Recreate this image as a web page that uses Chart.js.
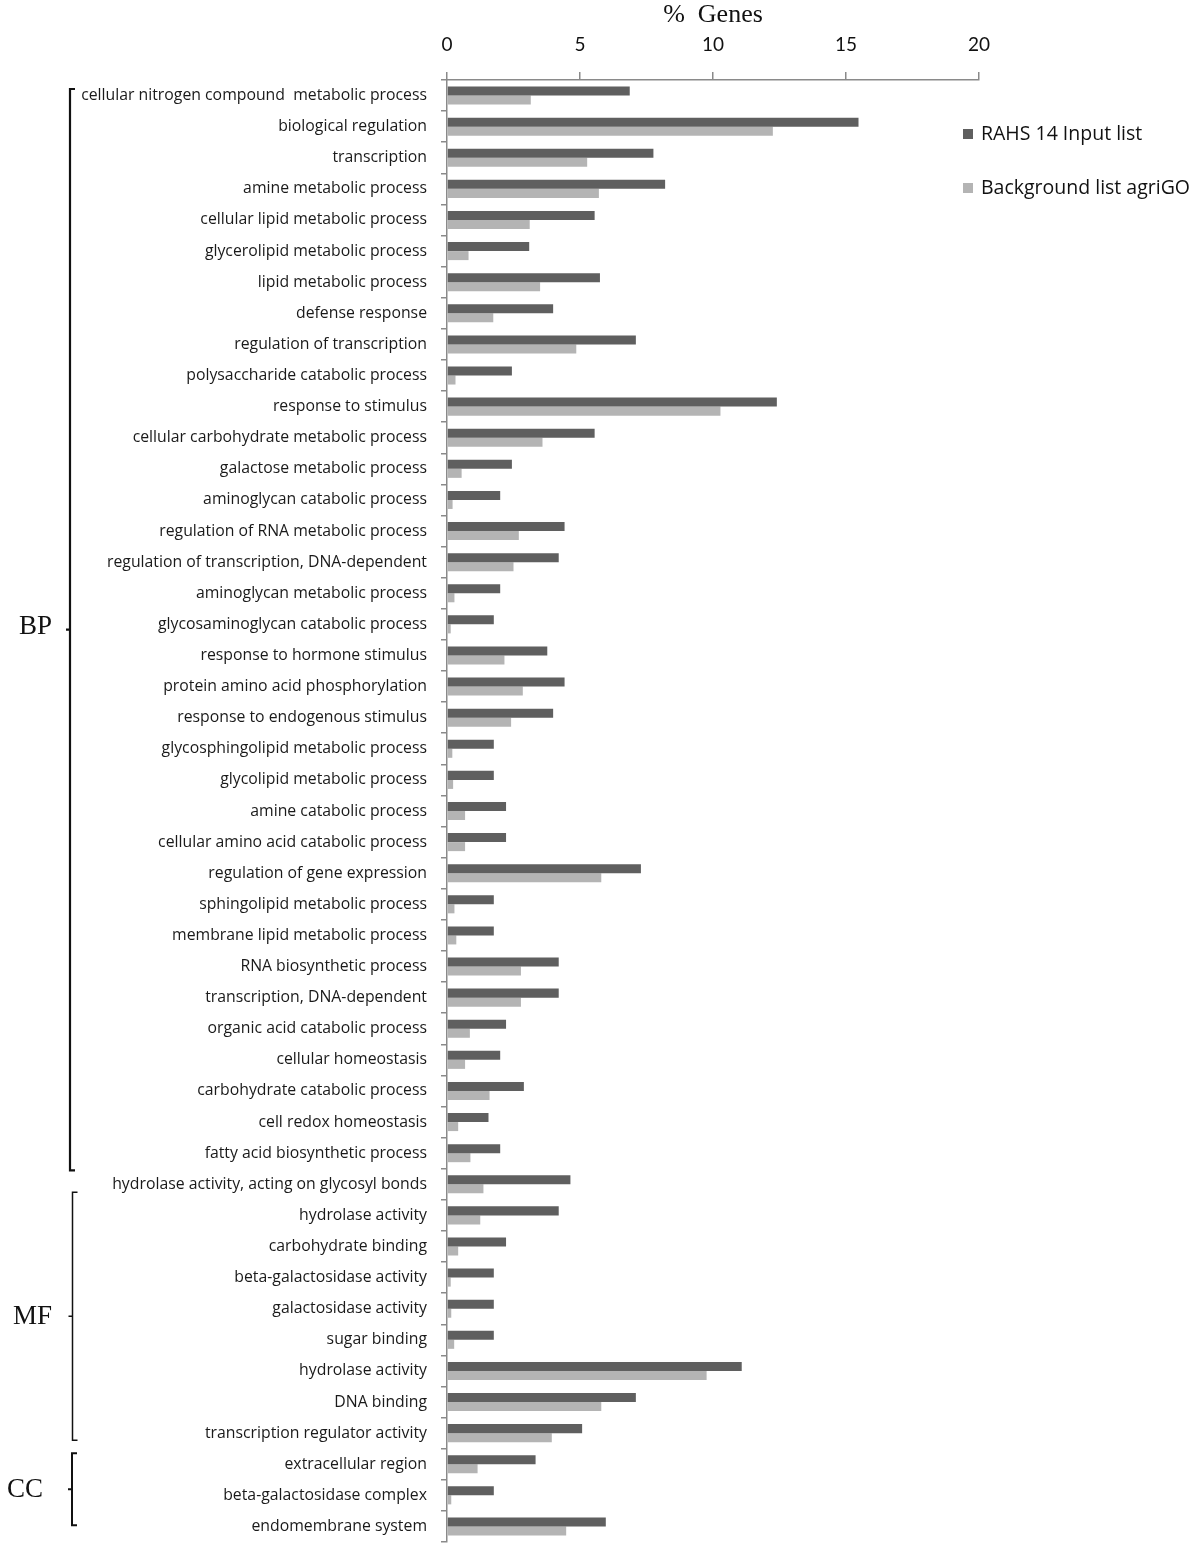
<html>

<head>
  <meta charset="utf-8">
  <style>
    html,
    body {
      margin: 0;
      padding: 0;
      background: #fff;
    }

    #wrap {
      width: 1200px;
      height: 1548px;
    }
  </style>
</head>

<body>
  <div id="wrap"><canvas id="myChart"></canvas></div>
  <script src="https://cdn.jsdelivr.net/npm/chart.js@4.4.1/dist/chart.umd.min.js"></script>
  <script type="text/javascript">
    // GO terms, top to bottom
    const terms = [
      'cellular nitrogen compound  metabolic process',
      'biological regulation',
      'transcription',
      'amine metabolic process',
      'cellular lipid metabolic process',
      'glycerolipid metabolic process',
      'lipid metabolic process',
      'defense response',
      'regulation of transcription',
      'polysaccharide catabolic process',
      'response to stimulus',
      'cellular carbohydrate metabolic process',
      'galactose metabolic process',
      'aminoglycan catabolic process',
      'regulation of RNA metabolic process',
      'regulation of transcription, DNA-dependent',
      'aminoglycan metabolic process',
      'glycosaminoglycan catabolic process',
      'response to hormone stimulus',
      'protein amino acid phosphorylation',
      'response to endogenous stimulus',
      'glycosphingolipid metabolic process',
      'glycolipid metabolic process',
      'amine catabolic process',
      'cellular amino acid catabolic process',
      'regulation of gene expression',
      'sphingolipid metabolic process',
      'membrane lipid metabolic process',
      'RNA biosynthetic process',
      'transcription, DNA-dependent',
      'organic acid catabolic process',
      'cellular homeostasis',
      'carbohydrate catabolic process',
      'cell redox homeostasis',
      'fatty acid biosynthetic process',
      'hydrolase activity, acting on glycosyl bonds',
      'hydrolase activity',
      'carbohydrate binding',
      'beta-galactosidase activity',
      'galactosidase activity',
      'sugar binding',
      'hydrolase activity',
      'DNA binding',
      'transcription regulator activity',
      'extracellular region',
      'beta-galactosidase complex',
      'endomembrane system'
    ];

    const inputList = [
      6.87, 15.47, 7.76, 8.2, 5.55, 3.09, 5.75, 3.99, 7.1, 2.44,
      12.4, 5.55, 2.44, 2.0, 4.42, 4.2, 2.0, 1.76, 3.77, 4.42,
      3.99, 1.76, 1.76, 2.22, 2.22, 7.29, 1.76, 1.76, 4.2, 4.2,
      2.22, 2.0, 2.89, 1.56, 2.0, 4.64, 4.2, 2.22, 1.76, 1.76,
      1.76, 11.08, 7.1, 5.08, 3.33, 1.76, 5.97
    ];

    const backgroundList = [
      3.15, 12.25, 5.27, 5.71, 3.11, 0.81, 3.5, 1.74, 4.86, 0.32,
      10.28, 3.59, 0.55, 0.21, 2.7, 2.5, 0.28, 0.14, 2.16, 2.85,
      2.41, 0.2, 0.23, 0.68, 0.68, 5.8, 0.28, 0.35, 2.78, 2.78,
      0.86, 0.68, 1.6, 0.42, 0.88, 1.37, 1.25, 0.42, 0.14, 0.16,
      0.27, 9.76, 5.8, 3.94, 1.15, 0.16, 4.48
    ];

    const xTicks = [0, 5, 10, 15, 20];

    // ontology groups, spans in row units from the top of the plot
    const groupNames = ['BP', 'MF', 'CC'];
    const groupSpans = [[0.29, 35.05], [35.76, 43.73], [44.15, 46.46]];

    const seriesNames = ['RAHS 14 Input list', 'Background list agriGO'];
    const seriesColors = ['#5f5f5f', '#b4b4b4'];

    const AXIS = '#8a8a8a';

    const bracketPlugin = {
      id: 'brackets',
      afterDraw(chart) {
        const c = chart.ctx;
        const y = chart.scales.y;
        const row = y.height / terms.length;
        const xs = [70, 72.5, 72];
        const widths = [2.2, 1.5, 2];
        const labelRight = [52, 52, 43];
        const labelShift = [-3, 1, 1];
        c.save();
        c.strokeStyle = '#111';
        c.fillStyle = '#111';
        groupSpans.forEach((span, i) => {
          const top = y.top + span[0] * row;
          const bot = y.top + span[1] * row;
          const mid = (top + bot) / 2;
          const x = xs[i];
          c.lineWidth = widths[i];
          c.beginPath();
          c.moveTo(x + 5, top);
          c.lineTo(x, top);
          c.lineTo(x, bot);
          c.lineTo(x + 5, bot);
          c.moveTo(x, mid);
          c.lineTo(x - 4, mid);
          c.stroke();
          c.font = '27px "Liberation Serif"';
          c.textAlign = 'right';
          c.textBaseline = 'middle';
          c.fillText(groupNames[i], labelRight[i], mid + labelShift[i]);
        });
        c.restore();
      }
    };

    const legendPlugin = {
      id: 'sideLegend',
      afterDraw(chart) {
        const c = chart.ctx;
        c.save();
        c.font = '19.5px "Open Sans"';
        c.textAlign = 'left';
        c.textBaseline = 'middle';
        chart.data.datasets.forEach((ds, i) => {
          const cy = 134 + i * 54;
          c.fillStyle = ds.backgroundColor;
          c.fillRect(963, cy - 5, 10, 10);
          c.fillStyle = '#111';
          c.fillText(ds.label, 981, cy);
        });
        c.restore();
      }
    };

    const ctx = document.getElementById('myChart');
    new Chart(ctx, {
      type: 'bar',
      data: {
        labels: terms,
        datasets: [
          { label: seriesNames[0], data: inputList, backgroundColor: seriesColors[0] },
          { label: seriesNames[1], data: backgroundList, backgroundColor: seriesColors[1] },
        ],
      },
      options: {
        indexAxis: 'y',
        responsive: true,
        maintainAspectRatio: false,
        animation: false,
        layout: {
          padding: { left: 0, right: 221, top: 0, bottom: 6 },
        },
        datasets: {
          bar: {
            categoryPercentage: 0.58,
            barPercentage: 1.0,
          },
        },
        plugins: {
          legend: { display: false },
          tooltip: { enabled: false },
        },
        scales: {
          x: {
            position: 'top',
            min: 0,
            max: 20,
            afterBuildTicks: (s) => {
              s.ticks = xTicks.map(v => ({ value: v }));
            },
            afterFit: (s) => {
              s.height = 80;
              s.paddingLeft = 0;
              s.paddingRight = 0;
            },
            border: { display: true, color: AXIS, width: 1.5 },
            grid: {
              drawOnChartArea: false,
              drawTicks: true,
              tickLength: 8,
              color: AXIS,
              lineWidth: 1.5,
            },
            ticks: {
              color: '#111',
              padding: 16,
              font: { family: 'Lato', size: 19 },
            },
            title: {
              display: true,
              text: '%  Genes',
              color: '#111',
              font: { family: 'Liberation Serif', size: 26 },
              padding: { top: 0, bottom: 4 },
            },
          },
          y: {
            afterFit: (s) => {
              s.width = 447;
              s.paddingTop = 0;
              s.paddingBottom = 0;
            },
            border: { display: true, color: AXIS, width: 1.5 },
            grid: {
              offset: true,
              drawOnChartArea: false,
              drawTicks: true,
              tickLength: 6,
              color: AXIS,
              lineWidth: 1.5,
            },
            ticks: {
              autoSkip: false,
              color: '#1a1a1a',
              padding: 14,
              font: { family: 'Open Sans', size: 15.8 },
            },
          },
        },
      },
      plugins: [bracketPlugin, legendPlugin],
    });
  </script>
</body>

</html>
